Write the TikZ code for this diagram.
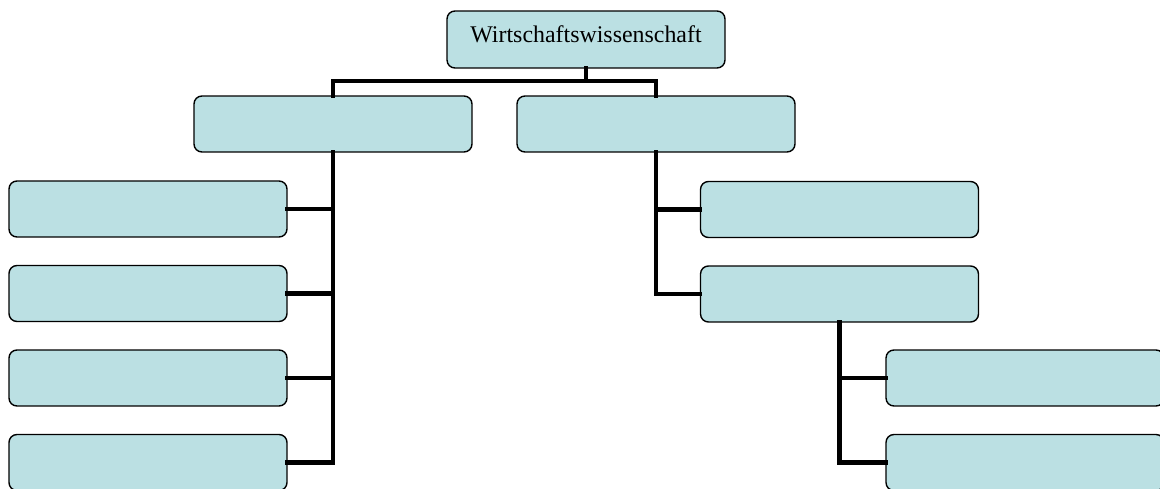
\documentclass[tikz,border=0pt]{standalone}
\usepackage{fontspec}
\setmainfont{Liberation Serif}
\begin{document}
\begin{tikzpicture}[x=0.02cm,y=-0.02cm,
  box/.style={draw=black,line width=0.8pt,fill=boxfill,rounded corners=4.5pt,
    minimum width=5.56cm,minimum height=1.12cm,inner sep=0pt,
    font=\fontsize{13.6}{16}\selectfont},
  conn/.style={line width=2.8pt,line join=miter,line cap=rect}]
\definecolor{boxfill}{RGB}{187,224,227}
\useasboundingbox (0,0) rectangle (1160,489);
\clip (0,0) rectangle (1160,489);
% junction below the root
\coordinate (j) at (586,81);
% boxes
\node[box,minimum height=1.14cm,text depth=5.7pt] (top) at (586,39.5) {Wirtschaftswissenschaft};
\node[box] (la) at (333,124) {};
\node[box] (lb) at (656,124) {};
\node[box] (c1) at (148,209) {};
\node[box] (c2) at (148,293.5) {};
\node[box] (c3) at (148,378) {};
\node[box] (c4) at (148,462.5) {};
\node[box] (r1) at (839.5,209.5) {};
\node[box] (r2) at (839.5,294) {};
\node[box] (s1) at (1025,378) {};
\node[box] (s2) at (1025,462.5) {};
% tree lines
\draw[conn] (top.south) -- (j);
\draw[conn] (la.north) |- (j) -| (lb.north);
\foreach \c in {c1,c2,c3,c4} \draw[conn] (la.south) |- (\c.east);
\foreach \c in {r1,r2} \draw[conn] (lb.south) |- (\c.west);
\foreach \c in {s1,s2} \draw[conn] (r2.south) |- (\c.west);
\end{tikzpicture}
\end{document}
